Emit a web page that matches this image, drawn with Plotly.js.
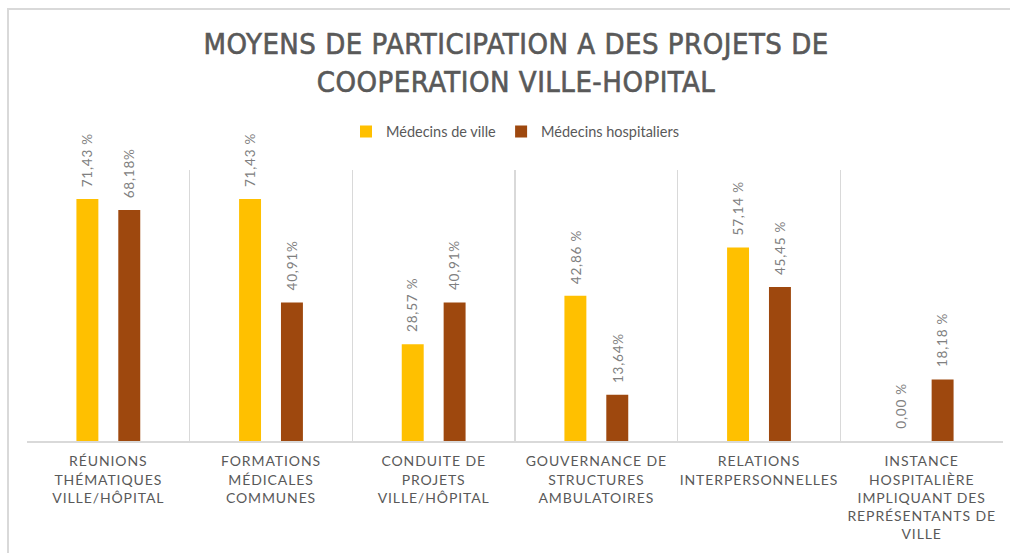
<!DOCTYPE html>
<html>
<head>
<meta charset="utf-8">
<script src="https://cdn.plot.ly/plotly-3.0.1.min.js"></script>
<style>
  html, body { margin: 0; padding: 0; background: #ffffff; }
  #frame { position: absolute; left: 7px; top: 8px; width: 1010px; height: 560px;
           border-top: 2px solid #d9d9d9; border-left: 2px solid #d9d9d9; pointer-events: none; z-index: 5; }
  #chart { position: absolute; left: 0; top: 0; width: 1010px; height: 553px; }
  .xtick text { letter-spacing: 0.9px; }
  .gtitle { letter-spacing: 0.5px; stroke: #595959; stroke-width: 0.6px; }
  .annotation-text { letter-spacing: 0.8px; }
</style>
</head>
<body>
<div id="chart"></div>
<div id="frame"></div>
<script>
// ---- data ----
const categories = [
  "RÉUNIONS<br>THÉMATIQUES<br>VILLE/HÔPITAL",
  "FORMATIONS<br>MÉDICALES<br>COMMUNES",
  "CONDUITE DE<br>PROJETS<br>VILLE/HÔPITAL",
  "GOUVERNANCE DE<br>STRUCTURES<br>AMBULATOIRES",
  "RELATIONS<br>INTERPERSONNELLES",
  "INSTANCE<br>HOSPITALIÈRE<br>IMPLIQUANT DES<br>REPRÉSENTANTS DE<br>VILLE"
];
const seriesNames = ["Médecins de ville", "Médecins hospitaliers"];
const villeValues = [71.43, 71.43, 28.57, 42.86, 57.14, 0.00];
const hospValues  = [68.18, 40.91, 40.91, 13.64, 45.45, 18.18];
const villeLabels = ["71,43 %", "71,43 %", "28,57 %", "42,86 %", "57,14 %", "0,00 %"];
const hospLabels  = ["68,18%", "40,91%", "40,91%", "13,64%", "45,45 %", "18,18 %"];
const titleText = "MOYENS DE PARTICIPATION A DES PROJETS DE<br>COOPERATION VILLE-HOPITAL";

// ---- styles ----
const colors = ["#FFC000", "#9E480E"];
const labelFont = {family: "Lato, 'Open Sans', sans-serif", size: 13.5, color: "#808080"};

const traces = [
  {type: "bar", name: seriesNames[0], x: categories, y: villeValues,
   marker: {color: colors[0]}, hoverinfo: "skip"},
  {type: "bar", name: seriesNames[1], x: categories, y: hospValues,
   marker: {color: colors[1]}, hoverinfo: "skip"}
];

const annotations = [];
[[villeValues, villeLabels, -21], [hospValues, hospLabels, 21]].forEach(([vals, labs, shift]) => {
  vals.forEach((v, i) => {
    annotations.push({
      x: categories[i], y: v, xref: "x", yref: "y",
      text: labs[i], showarrow: false, textangle: -90,
      xanchor: "center", yanchor: "bottom", xshift: shift, yshift: 10,
      font: labelFont
    });
  });
});

const layout = {
  width: 1010, height: 553,
  margin: {l: 27, r: 7, t: 170, b: 112},
  paper_bgcolor: "#ffffff", plot_bgcolor: "#ffffff",
  title: {
    text: titleText, x: 0.511, xanchor: "center", y: 0.902, yanchor: "middle",
    font: {family: "'DejaVu Sans Condensed', 'Liberation Sans', sans-serif",
           size: 29, color: "#595959", weight: "normal"}
  },
  showlegend: true,
  legend: {orientation: "h", x: 0.5, xanchor: "center", y: 1.142, yanchor: "middle",
           font: {family: "Lato, 'Open Sans', sans-serif", size: 14.5, color: "#595959"},
           traceorder: "normal", itemclick: false},
  barmode: "group", bargap: 0.485, bargroupgap: 0.476,
  xaxis: {
    type: "category", tickson: "boundaries", showgrid: true, gridcolor: "#d9d9d9", gridwidth: 1.5,
    showline: true, linecolor: "#d9d9d9", linewidth: 1.5, ticks: "", ticklen: 0,
    ticklabelstandoff: 7,
    tickfont: {family: "Lato, 'Open Sans', sans-serif", size: 14, color: "#595959"},
    fixedrange: true, tickangle: 0, automargin: false
  },
  yaxis: {range: [0, 80], visible: false, showgrid: false, zeroline: false, fixedrange: true},
  annotations: annotations
};

Plotly.newPlot("chart", traces, layout, {displayModeBar: false, staticPlot: true});
</script>
</body>
</html>
